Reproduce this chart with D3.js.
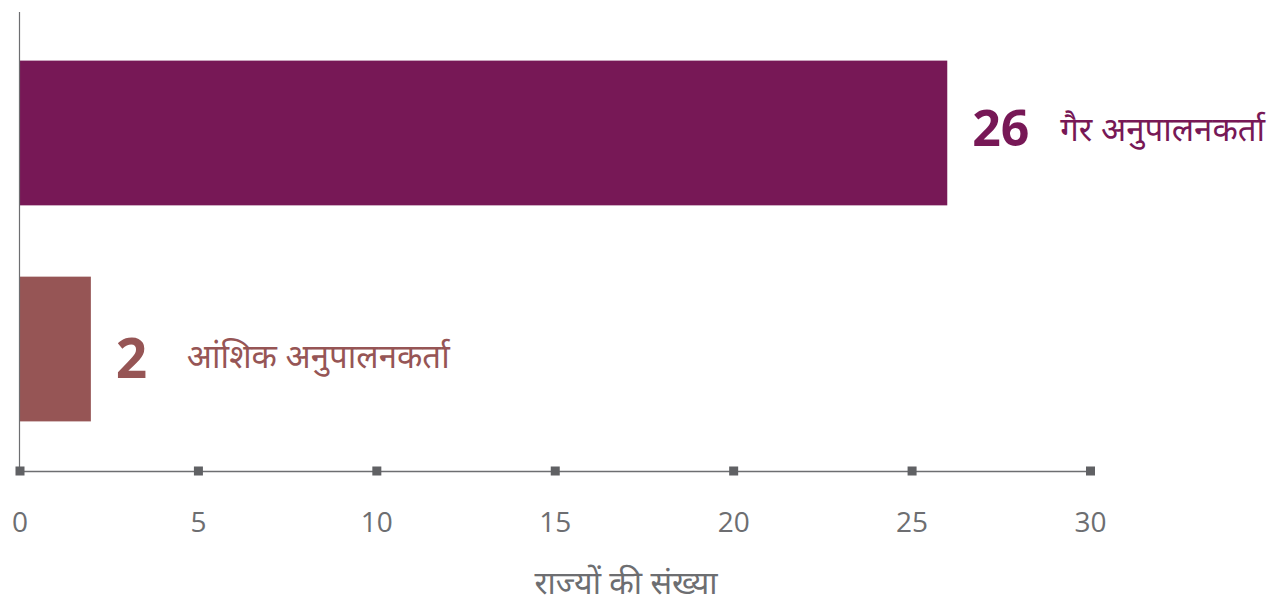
<!DOCTYPE html>
<html><head><meta charset="utf-8">
<script src="https://cdn.jsdelivr.net/npm/d3@7/dist/d3.min.js"></script>
<style>body{margin:0;background:#fff;} text{font-family:"Open Sans","Noto Sans",sans-serif;}</style>
</head><body>
<svg id="c" width="1271" height="603"></svg>
<script>
const categories = ["गैर अनुपालनकर्ता", "आंशिक अनुपालनकर्ता"];
const values = [26, 2];
const colors = ["#771856", "#965555"];
const tickValues = [0, 5, 10, 15, 20, 25, 30];
const axisTitle = "राज्यों की संख्या";

const svg = d3.select("#c");
const x = d3.scaleLinear().domain([0, 30]).range([19.5, 1090]);
const y = d3.scaleBand().domain(categories).range([12, 470]).paddingInner(0.33).paddingOuter(0.225);
const axisY = 471;

// bars
svg.selectAll("rect.bar").data(categories).join("rect")
  .attr("x", x(0)).attr("y", d => y(d))
  .attr("width", (d,i) => x(values[i]) - x(0))
  .attr("height", y.bandwidth())
  .attr("fill", (d,i) => colors[i]);

// vertical axis line
svg.append("line").attr("x1", x(0)).attr("x2", x(0)).attr("y1", 12).attr("y2", axisY)
  .attr("stroke", "#6d6e71").attr("stroke-width", 1.2);

// x axis
const g = svg.append("g").attr("transform", `translate(0,${axisY})`);
g.call(d3.axisBottom(x).tickValues(tickValues).tickSize(0).tickPadding(0).tickFormat(""));
g.select(".domain").attr("stroke", "#6d6e71").attr("stroke-width", 1.5);
g.selectAll(".tick").append("rect").attr("x", -4.5).attr("y", -4.5).attr("width", 9).attr("height", 9).attr("fill", "#606164");
g.selectAll(".tick").append("text").attr("y", 61).attr("text-anchor", "middle")
  .attr("fill", "#6d6e71").style("font-size", "28px").text(d => d);

// axis title
svg.append("text").attr("x", 626).attr("y", 594).attr("text-anchor", "middle")
  .attr("fill", "#6d6e71").style("font-size", "32px").text(axisTitle);

// value labels
const valOffsets = [25, 25];
const valSizes = [50, 55];
const valBase = [13, 29];
const nameOffsets = [113, 96];
const nameBase = [8, 19];
categories.forEach((c, i) => {
  const cy = y(c) + y.bandwidth() / 2;
  svg.append("text").attr("x", x(values[i]) + valOffsets[i]).attr("y", cy + valBase[i])
    .attr("fill", colors[i]).style("font-size", valSizes[i] + "px").style("font-weight", "700").text(values[i]);
  svg.append("text").attr("x", x(values[i]) + nameOffsets[i]).attr("y", cy + nameBase[i])
    .attr("fill", colors[i]).style("font-size", "33px").text(c);
});
</script>
</body></html>
